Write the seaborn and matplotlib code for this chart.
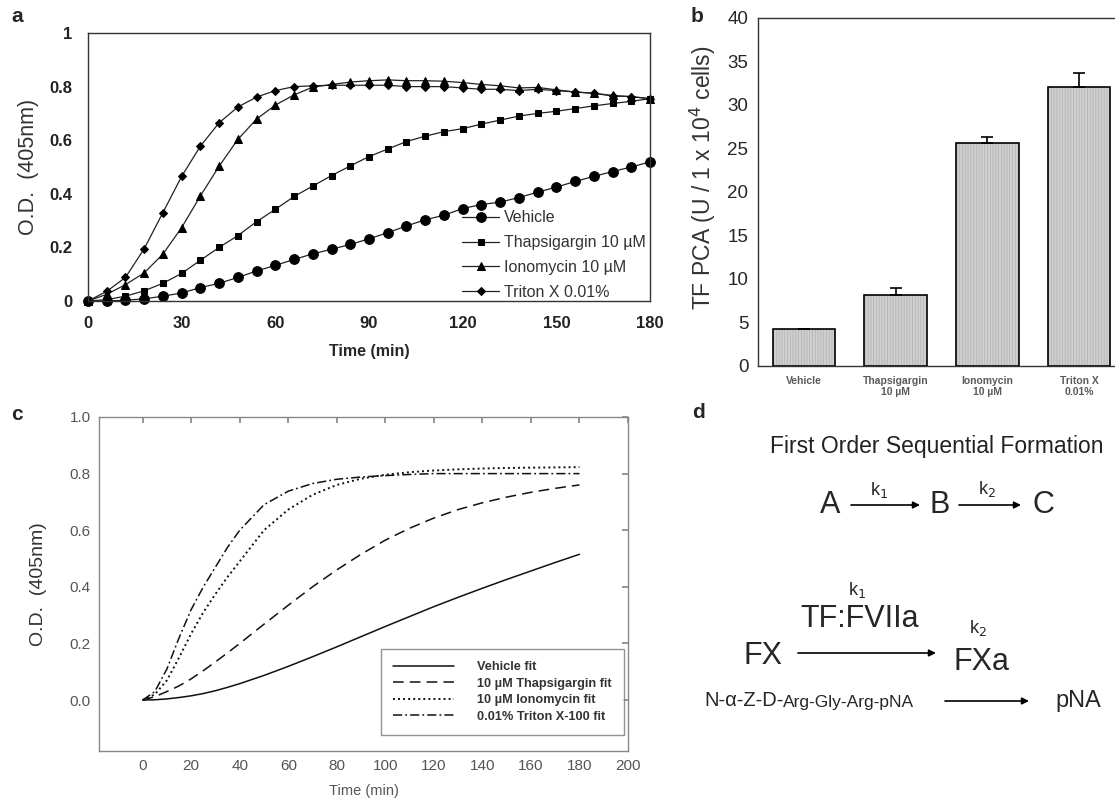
import matplotlib
matplotlib.use("Agg")
import matplotlib.pyplot as plt
from matplotlib.patches import Rectangle
import seaborn as sns
import pandas as pd

# --- data: panel a (measured O.D. every 6 min) ---
TIME_A = list(range(0, 181, 6))
VEHICLE = [0, 0, 0.003, 0.008, 0.018, 0.03, 0.05, 0.066, 0.088, 0.112, 0.133, 0.155, 0.176,
           0.193, 0.211, 0.232, 0.255, 0.28, 0.303, 0.32, 0.345, 0.36, 0.369, 0.386, 0.406,
           0.425, 0.446, 0.465, 0.483, 0.50, 0.519]
THAPSIGARGIN = [0, 0.005, 0.018, 0.038, 0.066, 0.103, 0.152, 0.2, 0.244, 0.296, 0.342, 0.39,
                0.429, 0.468, 0.504, 0.539, 0.567, 0.595, 0.615, 0.632, 0.643, 0.66, 0.675,
                0.69, 0.70, 0.708, 0.718, 0.728, 0.737, 0.745, 0.755]
IONOMYCIN = [0, 0.025, 0.061, 0.105, 0.175, 0.274, 0.392, 0.503, 0.603, 0.679, 0.731, 0.769,
             0.798, 0.808, 0.817, 0.822, 0.825, 0.822, 0.822, 0.82, 0.815, 0.808, 0.803,
             0.795, 0.797, 0.788, 0.78, 0.775, 0.767, 0.762, 0.755]
TRITON = [0, 0.036, 0.088, 0.195, 0.33, 0.465, 0.578, 0.665, 0.724, 0.761, 0.785, 0.80, 0.803,
          0.805, 0.805, 0.805, 0.805, 0.80, 0.80, 0.80, 0.795, 0.79, 0.79, 0.785, 0.79, 0.785,
          0.78, 0.775, 0.765, 0.763, 0.755]
LABELS_A = ["Vehicle", "Thapsigargin 10 µM", "Ionomycin 10 µM", "Triton X 0.01%"]

# --- data: panel b (TF PCA) ---
BAR_LABELS = ["Vehicle", "Thapsigargin\n10 µM", "Ionomycin\n10 µM", "Triton X\n0.01%"]
BAR_VALUES = [4.3, 8.2, 25.6, 32.1]
BAR_ERRORS = [0.0, 0.8, 0.7, 1.6]

# --- data: panel c (fitted curves) ---
TIME_C = [0, 5, 10, 15, 20, 25, 30, 35, 40, 50, 60, 70, 80, 90, 100, 110, 120, 130, 140,
          150, 160, 170, 180]
VEHICLE_FIT = [0, 0.001, 0.004, 0.009, 0.015, 0.023, 0.033, 0.045, 0.058, 0.087, 0.119, 0.153,
               0.188, 0.224, 0.26, 0.295, 0.33, 0.363, 0.395, 0.426, 0.456, 0.486, 0.515]
THAPS_FIT = [0, 0.012, 0.03, 0.05, 0.075, 0.104, 0.135, 0.167, 0.2, 0.268, 0.335, 0.40, 0.46,
             0.515, 0.565, 0.607, 0.643, 0.673, 0.697, 0.717, 0.734, 0.748, 0.76]
IONO_FIT = [0, 0.02, 0.07, 0.15, 0.235, 0.31, 0.375, 0.435, 0.49, 0.6, 0.673, 0.725, 0.76,
            0.782, 0.796, 0.805, 0.811, 0.815, 0.818, 0.82, 0.821, 0.822, 0.823]
TRITON_FIT = [0, 0.03, 0.11, 0.22, 0.32, 0.40, 0.47, 0.54, 0.60, 0.69, 0.738, 0.765, 0.78,
              0.788, 0.793, 0.797, 0.80, 0.80, 0.80, 0.80, 0.80, 0.80, 0.80]
LABELS_C = ["Vehicle fit", "10 µM Thapsigargin fit", "10 µM Ionomycin fit",
            "0.01% Triton X-100 fit"]

sns.set_theme(style="white")
plt.rcParams['font.family'] = ['Liberation Sans', 'DejaVu Sans']
plt.rcParams['hatch.linewidth'] = 0.6
NARROW = ['Liberation Sans Narrow', 'Liberation Sans', 'DejaVu Sans']

W, H = 1115, 806
fig = plt.figure(figsize=(W / 100, H / 100), dpi=100)


def box(l, t, r, b):
    return [l / W, 1 - b / H, (r - l) / W, (b - t) / H]


# ---------------- panel a ----------------
ax = fig.add_axes(box(88, 33, 650, 301))
series_a = [VEHICLE, THAPSIGARGIN, IONOMYCIN, TRITON]
markers_a = ["o", "s", "^", "D"]
sizes_a = [7, 5, 5.5, 4.5]
for vals, mk, ms, lab in zip(series_a, markers_a, sizes_a, LABELS_A):
    sns.lineplot(x=TIME_A, y=vals, marker=mk, markersize=ms, color="#222222",
                 markerfacecolor="black", markeredgecolor="black", linewidth=0.9,
                 label=lab, ax=ax, clip_on=False)
ax.set_xlim(0, 180)
ax.set_ylim(0, 1)
ax.set_xticks(range(0, 181, 30))
ax.set_yticks([0, 0.2, 0.4, 0.6, 0.8, 1])
ax.set_yticklabels(["0", "0.2", "0.4", "0.6", "0.8", "1"])
for s in ax.spines.values():
    s.set_color("#333333")
    s.set_linewidth(1.0)
ax.tick_params(axis="both", direction="out", length=3, color="#333333", pad=8)
for t in ax.get_xticklabels() + ax.get_yticklabels():
    t.set_family(NARROW)
    t.set_fontweight("bold")
    t.set_fontsize(12)
    t.set_color("#222222")
ax.set_xlabel("Time (min)", family=NARROW, fontweight="bold", fontsize=11.5, labelpad=9)
ax.set_ylabel("O.D.  (405nm)", fontsize=15.5, color="#333333", labelpad=8)
ax.legend(loc="lower left", bbox_to_anchor=(0.655, -0.02), frameon=False,
          prop={"family": NARROW, "size": 11.5}, handlelength=2.3, labelspacing=0.62,
          handletextpad=0.3, borderaxespad=0)
for txt in ax.get_legend().get_texts():
    txt.set_color("#333333")

# ---------------- panel b ----------------
bx = fig.add_axes(box(758, 18, 1115, 366))
dfb = pd.DataFrame({"label": BAR_LABELS, "value": BAR_VALUES})
sns.barplot(data=dfb, x="label", y="value", color="#d0d0d0", edgecolor="#b4b4b4",
            linewidth=0, width=0.68, errorbar=None, saturation=1, ax=bx)
for p in list(bx.patches):
    p.set_hatch("||||||")
    bx.add_patch(Rectangle(p.get_xy(), p.get_width(), p.get_height(), fill=False,
                           edgecolor="black", linewidth=1.2, zorder=p.get_zorder() + 0.1))
bx.errorbar(range(len(BAR_VALUES)), BAR_VALUES, yerr=[[0] * 4, BAR_ERRORS], fmt="none",
            ecolor="black", elinewidth=1.2, capsize=4, capthick=1.2)
bx.set_xlim(-0.5, 3.39)
bx.set_ylim(0, 40)
bx.set_yticks(range(0, 41, 5))
bx.spines["right"].set_visible(False)
for s in ["left", "top", "bottom"]:
    bx.spines[s].set_color("#333333")
    bx.spines[s].set_linewidth(1.0)
bx.tick_params(axis="y", direction="out", length=3, labelsize=13.5, pad=4)
bx.tick_params(axis="x", length=0, pad=7)
for t in bx.get_xticklabels():
    t.set_fontsize(7.5)
    t.set_fontweight("bold")
    t.set_color("#5a5a5a")
    t.set_linespacing(1.2)
bx.set_xlabel("")
bx.set_ylabel("TF PCA (U / 1 x 10$^4$ cells)", fontsize=16.5, color="#333333")
bx.yaxis.set_label_coords(-0.112, 0.54)

# ---------------- panel c ----------------
cx = fig.add_axes(box(99, 417, 628, 751))
series_c = [VEHICLE_FIT, THAPS_FIT, IONO_FIT, TRITON_FIT]
styles_c = [("-", 1.1), ((0, (7, 4)), 1.1), ((0, (1, 1.6)), 1.4), ((0, (6, 2, 1.2, 2)), 1.1)]
for vals, (ls, lw), lab in zip(series_c, styles_c, LABELS_C):
    sns.lineplot(x=TIME_C, y=vals, color="#111111", linewidth=lw, linestyle=ls,
                 label=lab, ax=cx)
cx.set_xlim(-18, 200)
cx.set_ylim(-0.18, 1.0)
cx.set_xticks(range(0, 201, 20))
cx.set_yticks([0, 0.2, 0.4, 0.6, 0.8, 1.0])
cx.set_yticklabels(["0.0", "0.2", "0.4", "0.6", "0.8", "1.0"])
for s in cx.spines.values():
    s.set_color("#888888")
    s.set_linewidth(1.0)
cx.tick_params(axis="both", direction="in", length=4, color="#888888", top=True,
               right=True, labelsize=11, labelcolor="#555555", pad=6)
cx.set_xlabel("Time (min)", fontsize=10.5, color="#555555", labelpad=8)
cx.set_ylabel("O.D.  (405nm)", fontsize=14, color="#333333", labelpad=16)
leg = cx.legend(loc="lower right", bbox_to_anchor=(0.992, 0.048), frameon=True,
                fancybox=False, edgecolor="#777777", handlelength=4.8, handletextpad=1.8,
                labelspacing=0.35, borderpad=0.95, borderaxespad=0,
                prop={"family": NARROW, "size": 9.2, "weight": "bold"})
leg.get_frame().set_linewidth(1.0)
for txt in leg.get_texts():
    txt.set_color("#333333")

# ---------------- panel letters and panel d ----------------
ov = fig.add_axes([0, 0, 1, 1])
ov.set_xlim(0, W)
ov.set_ylim(H, 0)
ov.axis("off")
ov.patch.set_alpha(0)
for letter, (x, y) in {"a": (11, 16), "b": (691, 16), "c": (11, 415), "d": (692, 412)}.items():
    ov.text(x, y, letter, fontsize=15, fontweight="bold", ha="left", va="center")

ov.text(937, 447, "First Order Sequential Formation", fontsize=16.5, color="#222222",
        ha="center", va="center")
arrow = dict(arrowstyle="-|>", color="black", lw=1.2, mutation_scale=10, shrinkA=0, shrinkB=0)
ov.text(830, 505, "A", fontsize=22, ha="center", va="center")
ov.annotate("", xy=(920, 505), xytext=(851, 505), arrowprops=arrow)
ov.text(879, 490, "k$_1$", fontsize=13, ha="center", va="center")
ov.text(940, 505, "B", fontsize=22, ha="center", va="center")
ov.annotate("", xy=(1021, 505), xytext=(959, 505), arrowprops=arrow)
ov.text(987, 489, "k$_2$", fontsize=13, ha="center", va="center")
ov.text(1043, 505, "C", fontsize=22, ha="center", va="center")

ov.text(857, 590, "k$_1$", fontsize=13, ha="center", va="center")
ov.text(860, 619, "TF:FVIIa", fontsize=22, ha="center", va="center")
ov.text(763, 656, "FX", fontsize=22, ha="center", va="center")
ov.annotate("", xy=(936, 653), xytext=(798, 653), arrowprops=arrow)
ov.text(978, 628, "k$_2$", fontsize=13, ha="center", va="center")
ov.text(981, 662, "FXa", fontsize=22, ha="center", va="center")
t1 = ov.text(704, 701, "N-α-Z-D-", fontsize=14.5, ha="left", va="center")
fig.canvas.draw()
bb = t1.get_window_extent().transformed(ov.transData.inverted())
ov.text(bb.x1, 702, "Arg-Gly-Arg-pNA", fontsize=12.5, ha="left", va="center")
ov.annotate("", xy=(1029, 701), xytext=(945, 701), arrowprops=arrow)
ov.text(1078, 701, "pNA", fontsize=17, ha="center", va="center")

fig.savefig("out.png", dpi=100)
